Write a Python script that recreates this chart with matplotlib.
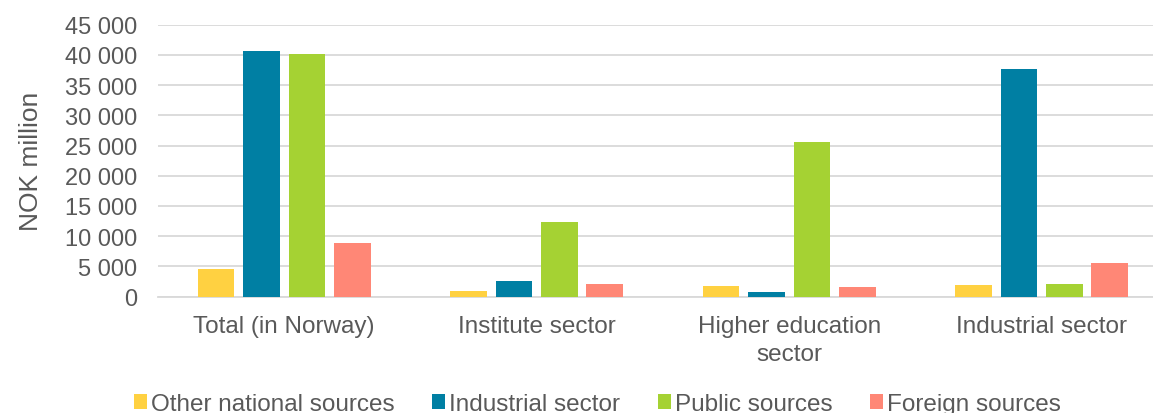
import numpy as np
import matplotlib.pyplot as plt
from matplotlib.ticker import FuncFormatter

plt.rcParams['font.family'] = ['Liberation Sans', 'DejaVu Sans']

sectors = ["Total (in Norway)", "Institute sector", "Higher education\nsector", "Industrial sector"]
sources = ["Other national sources", "Industrial sector", "Public sources", "Foreign sources"]
other_national = [4600, 950, 1750, 1950]
industrial = [40700, 2600, 780, 37700]
public = [40100, 12300, 25600, 2100]
foreign = [8900, 2100, 1600, 5600]

colors = ["#FFD141", "#007FA3", "#A5D233", "#FF8776"]
grey = "#595959"

fig = plt.figure(figsize=(11.53, 4.14), dpi=100)
# the plot area runs a little past the right edge of the figure
ax = fig.add_axes([0.137, 0.281, 0.876, 0.657])

x = np.arange(len(sectors))
step = 0.18
width = 0.146
for i, (vals, name) in enumerate(zip([other_national, industrial, public, foreign], sources)):
    ax.bar(x + (i - 1.5) * step, vals, width, color=colors[i], label=name, zorder=3)

ax.set_xlim(-0.5, len(sectors) - 0.5)
ax.set_ylim(0, 45000)
ax.set_yticks(range(0, 45001, 5000))
ax.yaxis.set_major_formatter(FuncFormatter(lambda v, p: f"{int(v):,}".replace(",", " ")))
ax.grid(axis="y", color="#D9D9D9", linewidth=1.3, zorder=0)
ax.set_xticks(x)
ax.set_xticklabels(sectors, linespacing=1.35)

for s in ["top", "right", "left"]:
    ax.spines[s].set_visible(False)
ax.spines["bottom"].set_color("#D9D9D9")
ax.spines["bottom"].set_linewidth(1.3)

ax.tick_params(axis="y", length=0, labelsize=17, labelcolor=grey, pad=15)
ax.tick_params(axis="x", length=0, labelsize=17.5, labelcolor=grey, pad=13)
ax.set_ylabel("NOK million", fontsize=19, color=grey, labelpad=16)

fig.legend(loc="center", bbox_to_anchor=(0.518, 0.022), ncol=4, frameon=False,
           fontsize=17.5, labelcolor=grey, handlelength=0.55, handleheight=0.55,
           handletextpad=0.15, columnspacing=1.55)

fig.savefig("out.png", dpi=100)
